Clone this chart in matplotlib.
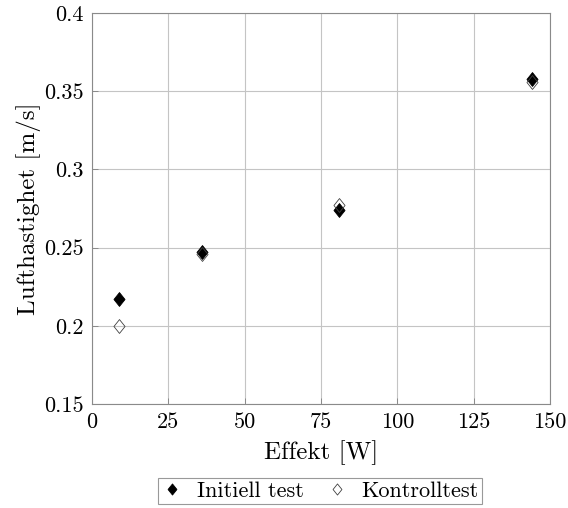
import matplotlib
matplotlib.use("Agg")
import matplotlib.pyplot as plt
from matplotlib.path import Path

plt.rcParams['font.family'] = ['cmr10', 'DejaVu Serif']
plt.rcParams['mathtext.fontset'] = 'cm'
plt.rcParams['axes.formatter.use_mathtext'] = True

effekt = [9, 36, 81, 144]
initiell = [0.217, 0.247, 0.274, 0.358]
kontroll = [0.200, 0.246, 0.277, 0.356]

xticks = [0, 25, 50, 75, 100, 125, 150]
xticklabels = ['0', '25', '50', '75', '100', '125', '150']
yticks = [0.15, 0.2, 0.25, 0.3, 0.35, 0.4]
yticklabels = ['0.15', '0.2', '0.25', '0.3', '0.35', '0.4']

diamond = Path([(0, 1), (0.8, 0), (0, -1), (-0.8, 0), (0, 1)],
               [Path.MOVETO, Path.LINETO, Path.LINETO, Path.LINETO, Path.CLOSEPOLY])

fig = plt.figure(figsize=(5.68, 5.08), dpi=100)
ax = fig.add_axes([92/568, 104/508, 458/568, 391/508])

ax.plot(effekt, initiell, linestyle='none', marker=diamond, markersize=10,
        markerfacecolor='black', markeredgecolor='black', markeredgewidth=0.6,
        label='Initiell test', zorder=3)
ax.plot(effekt, kontroll, linestyle='none', marker=diamond, markersize=10,
        markerfacecolor='none', markeredgecolor='#404040', markeredgewidth=0.6,
        label='Kontrolltest', zorder=3)

ax.set_xlim(0, 150)
ax.set_ylim(0.15, 0.4)
ax.set_xticks(xticks)
ax.set_xticklabels(xticklabels)
ax.set_yticks(yticks)
ax.set_yticklabels(yticklabels)
ax.tick_params(direction='in', length=4, width=0.6, colors='#808080',
               labelcolor='black', labelsize=16, top=False, right=False)
ax.tick_params(axis='x', pad=6)
ax.tick_params(axis='y', pad=6)
ax.grid(True, color='#c4c4c4', linewidth=0.8)
ax.set_axisbelow(True)
for s in ax.spines.values():
    s.set_color('#8a8a8a')
    s.set_linewidth(0.8)

ax.set_xlabel('Effekt [W]', fontsize=18, labelpad=6)
ax.set_ylabel('Lufthastighet [m/s]', fontsize=18, labelpad=2)

leg = fig.legend(loc='upper center', bbox_to_anchor=(320/568, 1 - 478/508),
                 ncol=2, fontsize=16, frameon=True, fancybox=False,
                 edgecolor='#808080', handlelength=1.0, handletextpad=0.6,
                 columnspacing=1.0, markerscale=0.8, borderpad=0.15,
                 borderaxespad=0)
leg.get_frame().set_linewidth(0.8)

fig.savefig('out.png', dpi=100)
